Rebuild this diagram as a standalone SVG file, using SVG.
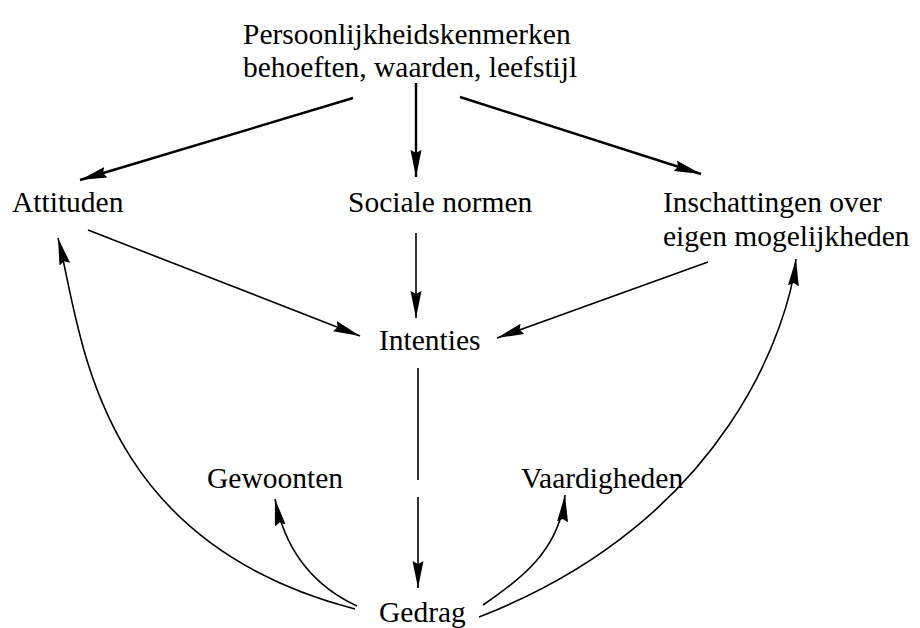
<svg xmlns="http://www.w3.org/2000/svg" width="920" height="628" viewBox="0 0 920 628">
<style>
text{font-family:"Liberation Serif","Times New Roman",serif;font-size:29.5px;fill:#000}
.c{fill:none;stroke:#000;stroke-width:1.6}
.t{stroke-width:2.4}
</style>
<defs>
<marker id="ah" markerUnits="userSpaceOnUse" markerWidth="28" markerHeight="12" refX="27" refY="5.5" orient="auto">
<path d="M0,0 L27,5.5 L0,11 L3,5.5 z" fill="#000"/>
</marker>
</defs>
<rect width="920" height="628" fill="#fff"/>
<g id="persoonlijkheid"><text x="243" y="44">Persoonlijkheidskenmerken</text><text x="243" y="77">behoeften, waarden, leefstijl</text></g>
<g id="attituden"><text x="12" y="212">Attituden</text></g>
<g id="sociale-normen"><text x="348" y="212">Sociale normen</text></g>
<g id="inschattingen"><text x="663" y="212">Inschattingen over</text><text x="663" y="246">eigen mogelijkheden</text></g>
<g id="intenties"><text x="379" y="350">Intenties</text></g>
<g id="gewoonten"><text x="207" y="488">Gewoonten</text></g>
<g id="vaardigheden"><text x="521" y="488">Vaardigheden</text></g>
<g id="gedrag"><text x="379" y="622">Gedrag</text></g>
<g id="connectors">
<path class="c t" d="M353,98 L80,180" marker-end="url(#ah)"/>
<path class="c t" d="M416,83 L416,177" marker-end="url(#ah)"/>
<path class="c t" d="M460,97 L701,174" marker-end="url(#ah)"/>
<path class="c" d="M88,230 L360,336" marker-end="url(#ah)"/>
<path class="c" d="M416,233 L416,318" marker-end="url(#ah)"/>
<path class="c" d="M708,262 L497,338" marker-end="url(#ah)"/>
<path class="c" d="M418,368 L418,480"/>
<path class="c" d="M418,497 L418,588" marker-end="url(#ah)"/>
<path class="c" d="M355,609 C90,540 82,330 58,238" marker-end="url(#ah)"/>
<path class="c" d="M479,617 C730,520 790,320 796,259" marker-end="url(#ah)"/>
<path class="c" d="M357,606 Q290,575 275,499" marker-end="url(#ah)"/>
<path class="c" d="M483,605 C520,580 560,550 565,495" marker-end="url(#ah)"/>
</g>
</svg>
